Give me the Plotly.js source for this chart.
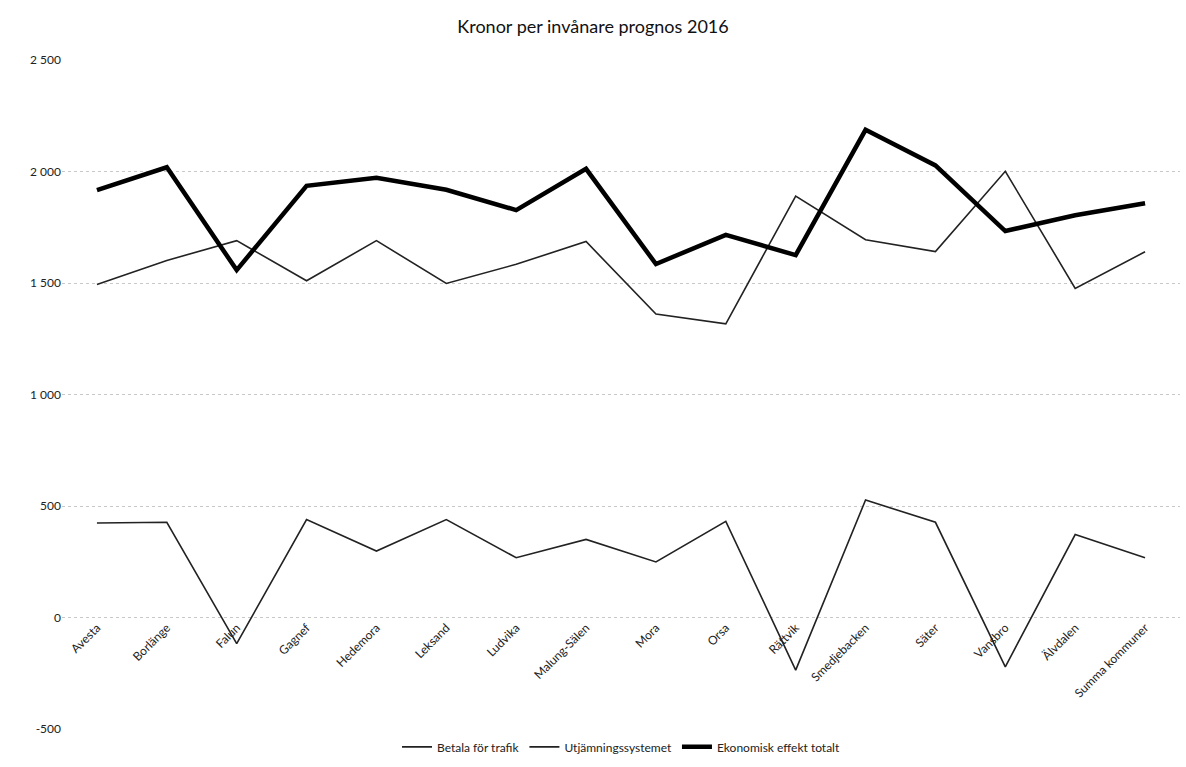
<!DOCTYPE html>
<html>
<head>
<meta charset="utf-8">
<script src="https://cdn.plot.ly/plotly-3.0.1.min.js"></script>
<style>html,body{margin:0;padding:0;background:#fff;}#chart{width:1186px;height:767px;}</style>
</head>
<body>
<div id="chart"></div>
<script>
const categories = ["Avesta","Borlänge","Falun","Gagnef","Hedemora","Leksand","Ludvika","Malung-Sälen","Mora","Orsa","Rättvik","Smedjebacken","Säter","Vansbro","Älvdalen","Summa kommuner"];
const betalaForTrafik = [424, 427, -117, 439, 298, 439, 268, 350, 249, 431, -236, 527, 427, -221, 372, 268];
const utjamningssystemet = [1493, 1601, 1690, 1510, 1690, 1498, 1584, 1686, 1361, 1317, 1890, 1694, 1641, 2001, 1476, 1640];
const ekonomiskEffektTotalt = [1916, 2019, 1558, 1936, 1972, 1918, 1827, 2012, 1585, 1716, 1625, 2187, 2027, 1733, 1804, 1858];
const seriesNames = ["Betala för trafik", "Utjämningssystemet", "Ekonomisk effekt totalt"];
const yTickVals = [-500, 0, 500, 1000, 1500, 2000, 2500];
const yTickText = ["-500", "0", "500", "1 000", "1 500", "2 000", "2 500"];
const chartTitle = "Kronor per invånare prognos 2016";

const font = "Lato, 'Open Sans', sans-serif";
const traces = [
  {x: categories, y: betalaForTrafik, name: seriesNames[0], type: "scatter", mode: "lines",
   line: {color: "#222", width: 1.6}},
  {x: categories, y: utjamningssystemet, name: seriesNames[1], type: "scatter", mode: "lines",
   line: {color: "#222", width: 1.6}},
  {x: categories, y: ekonomiskEffektTotalt, name: seriesNames[2], type: "scatter", mode: "lines",
   line: {color: "#000", width: 4.5}}
];
const layout = {
  width: 1186, height: 767,
  paper_bgcolor: "#fff", plot_bgcolor: "#fff",
  margin: {l: 62, r: 6, t: 60, b: 32},
  title: {text: chartTitle, x: 0.5, xanchor: "center", y: 0.965, yanchor: "middle",
          font: {family: font, size: 18, color: "#111"}},
  showlegend: true,
  legend: {orientation: "h", x: 0.5, xanchor: "center", y: -0.005, yanchor: "top",
           font: {family: font, size: 12, color: "#222"}, itemwidth: 30, tracegroupgap: 0},
  xaxis: {
    type: "category", range: [-0.5, 15.5],
    anchor: "free", position: 1/6,
    showline: false, showgrid: false, zeroline: false, ticks: "",
    tickangle: -45, tickfont: {family: font, size: 12, color: "#222"}
  },
  yaxis: {
    range: [-500, 2500], domain: [0, 1],
    tickvals: yTickVals, ticktext: yTickText,
    showgrid: true, gridcolor: "#c8c8c8", griddash: "dot", gridwidth: 1,
    zeroline: false, showline: false, ticks: "",
    tickfont: {family: font, size: 12, color: "#222"}
  }
};
Plotly.newPlot("chart", traces, layout, {displayModeBar: false, staticPlot: true});
</script>
</body>
</html>
